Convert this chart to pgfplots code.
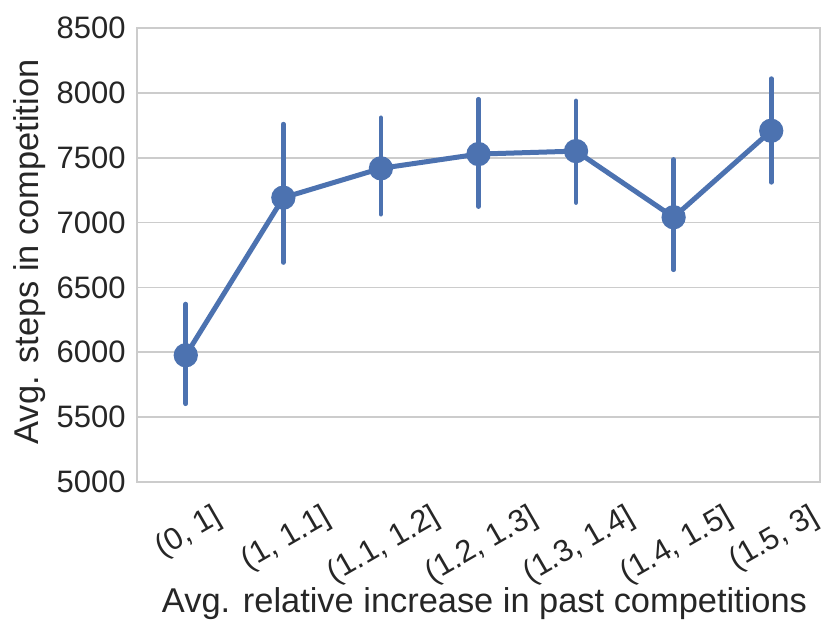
\documentclass[border=0pt]{standalone}
\usepackage{pgfplots}
\pgfplotsset{compat=1.18}
\usepackage{fontspec}
\setmainfont{Liberation Sans}
\definecolor{sbblue}{HTML}{4C72B0}
\definecolor{gridc}{HTML}{CCCCCC}
\definecolor{txt}{HTML}{262626}
\begin{document}
\begin{tikzpicture}
\begin{axis}[
  scale only axis,
  width=341.5pt, height=227pt,
  xmin=-0.5, xmax=6.5,
  ymin=5000, ymax=8500,
  ytick={5000,5500,6000,6500,7000,7500,8000,8500},
  xtick={0,1,2,3,4,5,6},
  xticklabels={\rotatebox{30}{(0, 1]},\rotatebox{30}{(1, 1.1]},\rotatebox{30}{(1.1, 1.2]},\rotatebox{30}{(1.2, 1.3]},\rotatebox{30}{(1.3, 1.4]},\rotatebox{30}{(1.4, 1.5]},\rotatebox{30}{(1.5, 3]}},
  xticklabel style={anchor=north, font=\fontsize{15.5}{17}\selectfont, text=txt, inner sep=0pt, yshift=-10pt, xshift=1.5pt},
  yticklabel style={font=\fontsize{15.5}{17}\selectfont, text=txt, inner sep=0pt, xshift=-5.5pt},
  /pgf/number format/assume math mode=true,
  /pgf/number format/set thousands separator={},
  major tick length=0pt,
  axis line style={gridc, line width=1pt},
  ymajorgrids,
  grid style={gridc, line width=0.9pt},
  xlabel={Avg. relative increase in past competitions},
  ylabel={Avg. steps in competition},
  label style={font=\fontsize{17.2}{19}\selectfont, text=txt},
  xlabel style={at={([yshift=-65pt,xshift=3pt]rel axis cs:0.5,0)}, anchor=base},
  ylabel style={at={([xshift=-53.5pt,yshift=1.5pt]rel axis cs:0,0.5)}, anchor=center},
  clip=false,
]
\addplot[sbblue, line width=2.5pt, mark=*, mark size=4.8pt,
  error bars/.cd, y dir=both, y explicit, error mark=none,
  error bar style={line width=2.3pt, line cap=round, sbblue}]
coordinates {
  (0,5977) += (0,395) -= (0,374)
  (1,7192) += (0,567) -= (0,500)
  (2,7418) += (0,390) -= (0,354)
  (3,7528) += (0,423) -= (0,405)
  (4,7551) += (0,387) -= (0,397)
  (5,7041) += (0,446) -= (0,405)
  (6,7708) += (0,402) -= (0,398)
};
\end{axis}
\pgfresetboundingbox
\path[use as bounding box] ([xshift=-68.5pt,yshift=-77.5pt]current axis.south west) rectangle ([xshift=5.5pt,yshift=14pt]current axis.north east);
\end{tikzpicture}
\end{document}
